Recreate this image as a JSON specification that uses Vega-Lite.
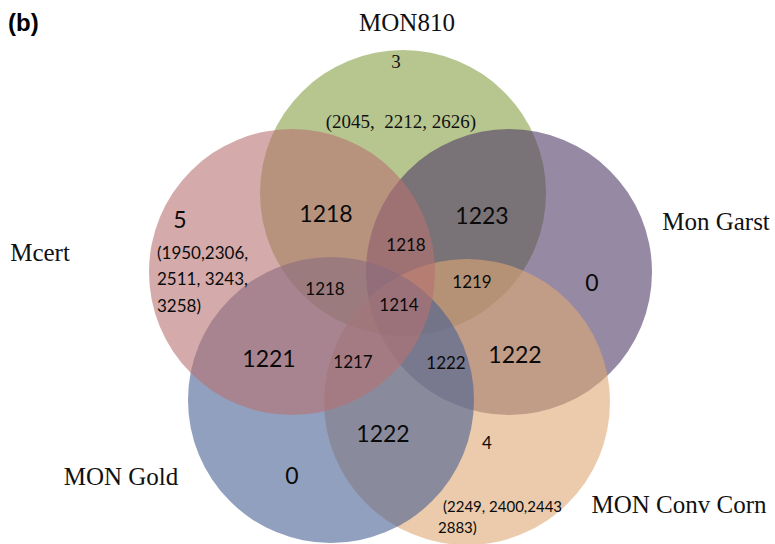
{
  "$schema": "https://vega.github.io/schema/vega-lite/v6.json",
  "width": 775,
  "height": 544,
  "autosize": {"type": "fit", "contains": "padding"},
  "padding": 0,
  "background": "white",
  "config": {"view": {"stroke": null}},
  "datasets": {
    "sets": [
      {"set": "MON810", "x": 403, "y": 193},
      {"set": "Mon Garst", "x": 509, "y": 272},
      {"set": "MON Conv Corn", "x": 467, "y": 402},
      {"set": "MON Gold", "x": 331, "y": 400},
      {"set": "Mcert", "x": 292, "y": 272}
    ],
    "setLabels": [
      {"label": "MON810", "x": 407, "y": 23},
      {"label": "Mcert", "x": 40, "y": 253},
      {"label": "Mon Garst", "x": 716, "y": 222},
      {"label": "MON Gold", "x": 121, "y": 477},
      {"label": "MON Conv Corn", "x": 679, "y": 505}
    ],
    "serifNotes": [
      {"label": "3", "x": 396, "y": 62},
      {"label": "(2045,\u00a0 2212, 2626)", "x": 401, "y": 122}
    ],
    "bigCounts": [
      {"label": "5", "x": 180, "y": 221},
      {"label": "1218", "x": 326, "y": 215},
      {"label": "1223", "x": 482, "y": 217},
      {"label": "0", "x": 592, "y": 284},
      {"label": "1221", "x": 269, "y": 360},
      {"label": "1222", "x": 515, "y": 356},
      {"label": "1222", "x": 383, "y": 435},
      {"label": "0", "x": 292, "y": 477}
    ],
    "smallCounts": [
      {"label": "1218", "x": 406, "y": 246},
      {"label": "1219", "x": 472, "y": 283},
      {"label": "1218", "x": 325, "y": 290},
      {"label": "1214", "x": 399, "y": 306},
      {"label": "1217", "x": 353, "y": 363},
      {"label": "1222", "x": 446, "y": 364},
      {"label": "4", "x": 487, "y": 444}
    ],
    "mcertList": [
      {"label": "(1950,2306,", "x": 157, "y": 254},
      {"label": "2511, 3243,", "x": 157, "y": 280},
      {"label": "3258)", "x": 157, "y": 307}
    ],
    "convList": [
      {"label": "(2249, 2400,2443", "x": 443, "y": 507},
      {"label": "2883)", "x": 438, "y": 528}
    ],
    "panel": [
      {"label": "(b)", "x": 8, "y": 24}
    ]
  },
  "encoding": {
    "x": {"field": "x", "type": "quantitative", "scale": {"domain": [0, 775], "nice": false, "zero": false}, "axis": null},
    "y": {"field": "y", "type": "quantitative", "scale": {"domain": [0, 544], "nice": false, "zero": false, "reverse": true}, "axis": null}
  },
  "layer": [
    {
      "data": {"name": "sets"},
      "mark": {"type": "point", "shape": "circle", "filled": true, "size": 81796, "opacity": 0.6, "strokeWidth": 0, "clip": true},
      "encoding": {
        "color": {
          "field": "set", "type": "nominal", "legend": null,
          "scale": {
            "domain": ["MON810", "Mon Garst", "MON Conv Corn", "MON Gold", "Mcert"],
            "range": ["#87a044", "#503a66", "#dea875", "#486193", "#b77171"]
          }
        },
        "order": {"value": 0}
      }
    },
    {
      "data": {"name": "setLabels"},
      "mark": {"type": "text", "font": "Liberation Serif", "fontSize": 25, "color": "#111111", "align": "center", "baseline": "middle", "clip": true},
      "encoding": {"text": {"field": "label"}}
    },
    {
      "data": {"name": "serifNotes"},
      "mark": {"type": "text", "font": "Liberation Serif", "fontSize": 19, "color": "#111111", "align": "center", "baseline": "middle", "clip": true},
      "encoding": {"text": {"field": "label"}}
    },
    {
      "data": {"name": "bigCounts"},
      "mark": {"type": "text", "font": "Lato", "fontSize": 23, "color": "#0a0a0a", "align": "center", "baseline": "middle", "clip": true},
      "encoding": {"text": {"field": "label"}}
    },
    {
      "data": {"name": "smallCounts"},
      "mark": {"type": "text", "font": "Lato", "fontSize": 17, "color": "#0a0a0a", "align": "center", "baseline": "middle", "clip": true},
      "encoding": {"text": {"field": "label"}}
    },
    {
      "data": {"name": "mcertList"},
      "mark": {"type": "text", "font": "Lato", "fontSize": 17, "color": "#0a0a0a", "align": "left", "baseline": "middle", "clip": true},
      "encoding": {"text": {"field": "label"}}
    },
    {
      "data": {"name": "convList"},
      "mark": {"type": "text", "font": "Lato", "fontSize": 15, "color": "#0a0a0a", "align": "left", "baseline": "middle", "clip": true},
      "encoding": {"text": {"field": "label"}}
    },
    {
      "data": {"name": "panel"},
      "mark": {"type": "text", "font": "Liberation Sans", "fontSize": 24, "fontWeight": "bold", "color": "#000000", "align": "left", "baseline": "middle", "clip": true},
      "encoding": {"text": {"field": "label"}}
    }
  ]
}
